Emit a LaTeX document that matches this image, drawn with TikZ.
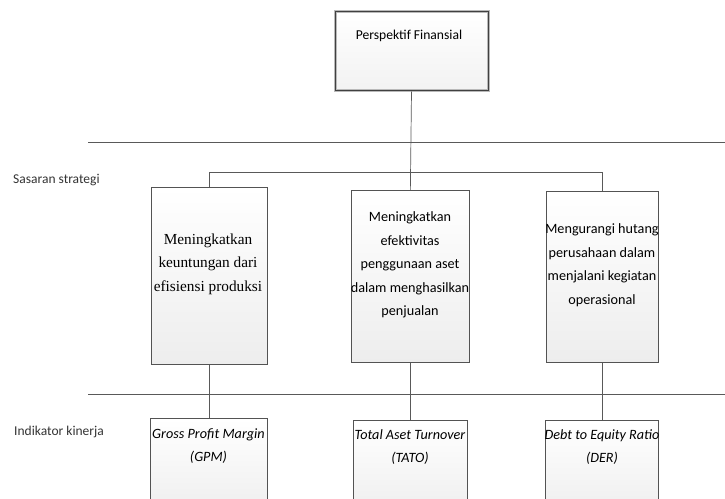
\documentclass[tikz,border=0pt]{standalone}
\usepackage{fontspec}
\setmainfont{Carlito}
\newfontfamily\timesfont{Liberation Serif}
\begin{document}
\begin{tikzpicture}[x=1pt,y=-1pt,
  box/.style={draw=gray!65!black, line width=0.7pt, top color=white, bottom color=gray!14, shading angle=0, inner sep=0pt, anchor=north west},
  txt/.style={align=center, inner sep=0pt, font=\fontsize{14.2}{23.5}\selectfont},
  side/.style={anchor=west, inner sep=0pt, font=\fontsize{13.5}{15}\selectfont, text=black!80},
  conn/.style={draw=gray!70!black, line width=0.7pt}]
\useasboundingbox (0,0) rectangle (725,498);
\clip (0,0) rectangle (725,498);
% rails
\coordinate (r1a) at (88,142); \coordinate (r1b) at (725,142);
\coordinate (r2a) at (88,394); \coordinate (r2b) at (725,394);
\draw[conn] (r1a) -- (r1b);
\draw[conn] (r2a) -- (r2b);
% top box
\node[box, draw=gray!55, line width=3pt, bottom color=gray!10, minimum width=153pt, minimum height=79pt] (top) at (333.5,9.5) {};
\draw[black!75, line width=0.6pt] ([shift={(1.5,1.5)}]top.north west) rectangle ([shift={(-1.5,-1.5)}]top.south east);
\node[txt, font=\fontsize{13.6}{15}\selectfont] (toptxt) at (409,36) {Perspektif Finansial};
% strategy boxes
\node[box, minimum width=116pt, minimum height=177pt] (s1) at (151,187) {};
\node[box, minimum width=118pt, minimum height=172pt] (s2) at (351,190) {};
\node[box, minimum width=112pt, minimum height=171pt] (s3) at (546,191) {};
\node[txt, font=\timesfont\fontsize{15.3}{23.5}\selectfont] (s1t) at (208,264) {Meningkatkan\\keuntungan dari\\efisiensi produksi};
\node[txt] (s2t) at (410,265) {Meningkatkan\\efektivitas\\penggunaan aset\\dalam menghasilkan\\penjualan};
\node[txt] (s3t) at (602,265) {Mengurangi hutang\\perusahaan dalam\\menjalani kegiatan\\operasional};
% indicator boxes
\node[box, minimum width=117pt, minimum height=100pt] (k1) at (150,418) {};
\node[box, minimum width=114pt, minimum height=100pt] (k2) at (353,420) {};
\node[box, minimum width=113pt, minimum height=100pt] (k3) at (545,420) {};
\node[txt, font=\itshape\fontsize{14.2}{23}\selectfont] (k1t) at (208.5,446) {Gross Profit Margin\\(GPM)};
\node[txt, font=\itshape\fontsize{14.2}{23}\selectfont] (k2t) at (410,447) {Total Aset Turnover\\(TATO)};
\node[txt, font=\itshape\fontsize{14.2}{23}\selectfont] (k3t) at (602,447) {Debt to Equity Ratio\\(DER)};
% side labels
\node[side] (lab1) at (13,180) {Sasaran strategi};
\node[side] (lab2) at (14,432) {Indikator kinerja};
% connectors
\coordinate (j1) at (209,172);
\coordinate (j3) at (602,172);
\draw[conn] (top.south) -- (s2.north);
\draw[conn] (s1.north -| j1) -- (j1) -- (j3) -- (s3.north -| j3);
\draw[conn] (s1.south -| j1) -- (k1.north -| j1);
\draw[conn] (s2.south) -- (k2.north -| s2.south);
\draw[conn] (s3.south -| j3) -- (k3.north -| j3);
\end{tikzpicture}
\end{document}
